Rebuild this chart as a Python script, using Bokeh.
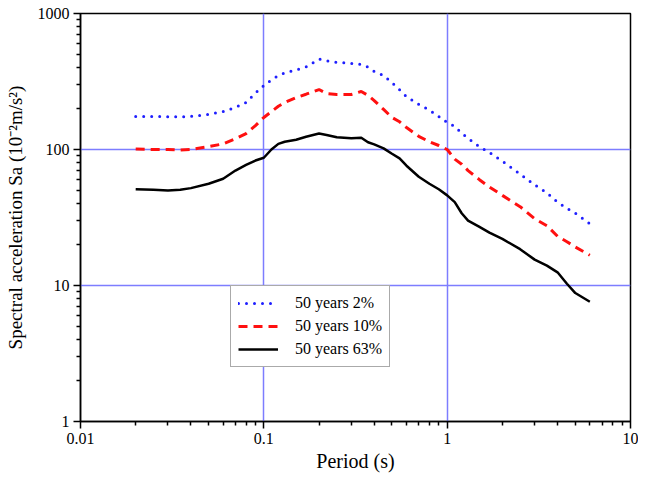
from bokeh.plotting import figure
from bokeh.models import Legend, LegendItem, CustomJSTickFormatter, FixedTicker
from bokeh.embed import file_html
from bokeh.resources import INLINE

periods = [0.02, 0.025, 0.03, 0.035, 0.04, 0.05, 0.06, 0.07, 0.08, 0.09, 0.1, 0.11, 0.12, 0.13,
           0.15, 0.17, 0.2, 0.22, 0.25, 0.3, 0.34, 0.37, 0.4, 0.45, 0.5, 0.55, 0.6, 0.7, 0.8, 0.9,
           1.0, 1.1, 1.2, 1.3, 1.5, 1.7, 2.0, 2.5, 3.0, 3.5, 4.0, 4.5, 5.0, 6.0]
sa_2pct = [175, 175, 174, 174, 175, 181, 190, 204, 222, 260, 295, 325, 350, 365,
           385, 405, 462, 448, 438, 430, 422, 403, 375, 350, 310, 275, 245, 215, 195, 175,
           158, 148, 132, 121, 105, 95, 82, 66, 55, 48, 41, 37, 34, 28.5]
sa_10pct = [101, 100, 100, 99, 100, 105, 110, 120, 131, 150, 172, 190, 208, 222,
            241, 255, 276, 258, 254, 254, 267, 250, 229, 197, 172, 160, 145, 125, 114, 107,
            100, 85, 78, 70, 60, 53, 46, 38, 31, 27.5, 23, 21, 19.2, 16.7]
sa_63pct = [51, 50.5, 50, 50.5, 52, 56, 61, 70, 77, 83, 87, 100, 110, 114,
            118, 124, 131, 128, 123, 121, 122, 113, 109, 102, 93, 86, 76, 63, 56, 51,
            46, 41, 34, 30, 27, 24.5, 22, 18.5, 15.5, 14, 12.5, 10.3, 8.8, 7.6]
labels = ["50 years 2%", "50 years 10%", "50 years 63%"]
x_ticks = [0.01, 0.1, 1, 10]
y_ticks = [1, 10, 100, 1000]
x_minor = [m * d for d in (0.01, 0.1, 1) for m in range(2, 10)]
y_minor = [m * d for d in (1, 10, 100) for m in range(2, 10)]

SERIF = "Liberation Serif"

p = figure(width=638, height=474, x_axis_type="log", y_axis_type="log",
           x_range=(0.01, 10), y_range=(1, 1000),
           output_backend="svg", toolbar_location=None,
           min_border_left=80, min_border_right=8, min_border_top=13, min_border_bottom=53)

p.outline_line_color = "black"
p.outline_line_width = 1.5
p.background_fill_color = "white"
p.border_fill_color = "white"

r1 = p.line(periods, sa_2pct, line_color="#1f1fff", line_width=3, line_dash="0 8", line_cap="round")
r2 = p.line(periods, sa_10pct, line_color="#ff1010", line_width=3, line_dash="9 6")
r3 = p.line(periods, sa_63pct, line_color="black", line_width=2.5, line_join="round")

fmt = CustomJSTickFormatter(code="return String(parseFloat(tick.toPrecision(3)));")

p.xaxis[0].ticker = FixedTicker(ticks=x_ticks, minor_ticks=x_minor)
p.yaxis[0].ticker = FixedTicker(ticks=y_ticks, minor_ticks=y_minor)

for ax in (p.xaxis[0], p.yaxis[0]):
    ax.formatter = fmt
    ax.axis_line_width = 1.5
    ax.axis_line_color = "black"
    ax.axis_line_dash = "solid"
    ax.major_tick_line_width = 1.5
    ax.major_tick_line_color = "black"
    ax.major_tick_line_dash = "solid"
    ax.minor_tick_line_width = 1.5
    ax.minor_tick_line_color = "black"
    ax.minor_tick_line_dash = "solid"
    ax.major_tick_in = 0
    ax.major_tick_out = 7
    ax.minor_tick_in = 0
    ax.minor_tick_out = 4
    ax.major_label_text_font = SERIF
    ax.major_label_text_font_size = "16px"
    ax.major_label_text_color = "black"
    ax.axis_label_text_font = SERIF
    ax.axis_label_text_font_style = "normal"
    ax.axis_label_text_color = "black"

p.xaxis.axis_label = "Period (s)"
p.yaxis.axis_label = "Spectral acceleration Sa (10\u207b\u00b2m/s\u00b2)"
p.xaxis.axis_label_text_font_size = "20px"
p.yaxis.axis_label_text_font_size = "19px"
p.xaxis.major_label_standoff = 4
p.xaxis.axis_label_standoff = 3
p.yaxis.major_label_standoff = 4
p.yaxis.axis_label_standoff = 9

p.xgrid.ticker = FixedTicker(ticks=x_ticks)
p.ygrid.ticker = FixedTicker(ticks=y_ticks)
for g in (p.xgrid[0], p.ygrid[0]):
    g.grid_line_color = "#7d7dff"
    g.grid_line_width = 1.5

legend = Legend(items=[LegendItem(label=labels[0], renderers=[r1]),
                       LegendItem(label=labels[1], renderers=[r2]),
                       LegendItem(label=labels[2], renderers=[r3])],
                location=(150, 54))
legend.border_line_color = "#555555"
legend.border_line_width = 1.5
legend.background_fill_color = "white"
legend.background_fill_alpha = 1
legend.label_text_font = SERIF
legend.label_text_font_size = "16px"
legend.label_text_color = "black"
legend.glyph_width = 40
legend.glyph_height = 20
legend.label_height = 20
legend.label_standoff = 17
legend.spacing = 3
legend.padding = 7
legend.margin = 0
p.add_layout(legend, "center")

open("out.html", "w").write(file_html(p, INLINE))
